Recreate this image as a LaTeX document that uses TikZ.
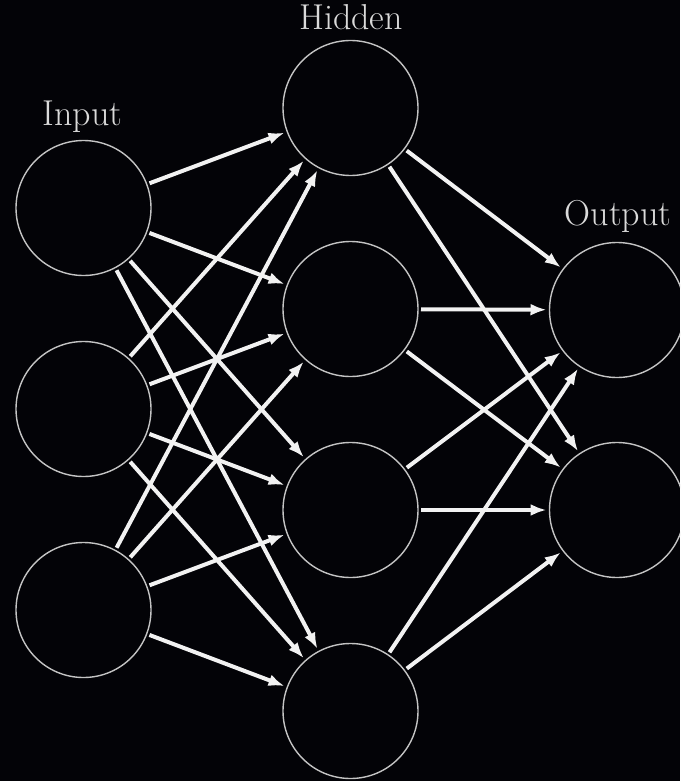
\documentclass[tikz,border=0pt]{standalone}
\usetikzlibrary{arrows.meta}
\definecolor{bgc}{HTML}{030307}
\definecolor{ringc}{HTML}{C4C4C4}
\definecolor{arrc}{HTML}{F2F2F2}
\definecolor{txtc}{HTML}{DADADA}
\begin{document}
\begin{tikzpicture}[x=1pt,y=-1pt,
  neuron/.style={circle,draw=ringc,line width=1.4pt,minimum size=135pt,inner sep=0pt,outer sep=3pt},
  conn/.style={draw=arrc,line width=4pt,-{Latex[length=16pt,width=12pt]}},
  lbl/.style={text=txtc,font=\fontsize{36}{42}\selectfont,anchor=base}]
\fill[bgc] (0,0) rectangle (680,781);
\useasboundingbox (0,0) rectangle (680,781);
\begin{scope}
\clip (0,0) rectangle (680,781);
\node[neuron] (i1) at (83.5,208) {};
\node[neuron] (i2) at (83.5,409) {};
\node[neuron] (i3) at (83.5,610) {};
\node[neuron] (h1) at (350.5,108) {};
\node[neuron] (h2) at (350.5,309) {};
\node[neuron] (h3) at (350.5,510) {};
\node[neuron] (h4) at (350.5,711) {};
\node[neuron] (o1) at (617,310) {};
\node[neuron] (o2) at (617,510) {};
\foreach \a in {i1,i2,i3}{
  \foreach \b in {h1,h2,h3,h4}{
    \draw[conn] (\a) -- (\b);
  }
}
\foreach \a in {h1,h2,h3,h4}{
  \foreach \b in {o1,o2}{
    \draw[conn] (\a) -- (\b);
  }
}
\end{scope}
\node[lbl] (tin) at (82.5,125) {Input};
\node[lbl] (thid) at (351,30) {Hidden};
\node[lbl] (tout) at (618,225) {Output};
\end{tikzpicture}
\end{document}
